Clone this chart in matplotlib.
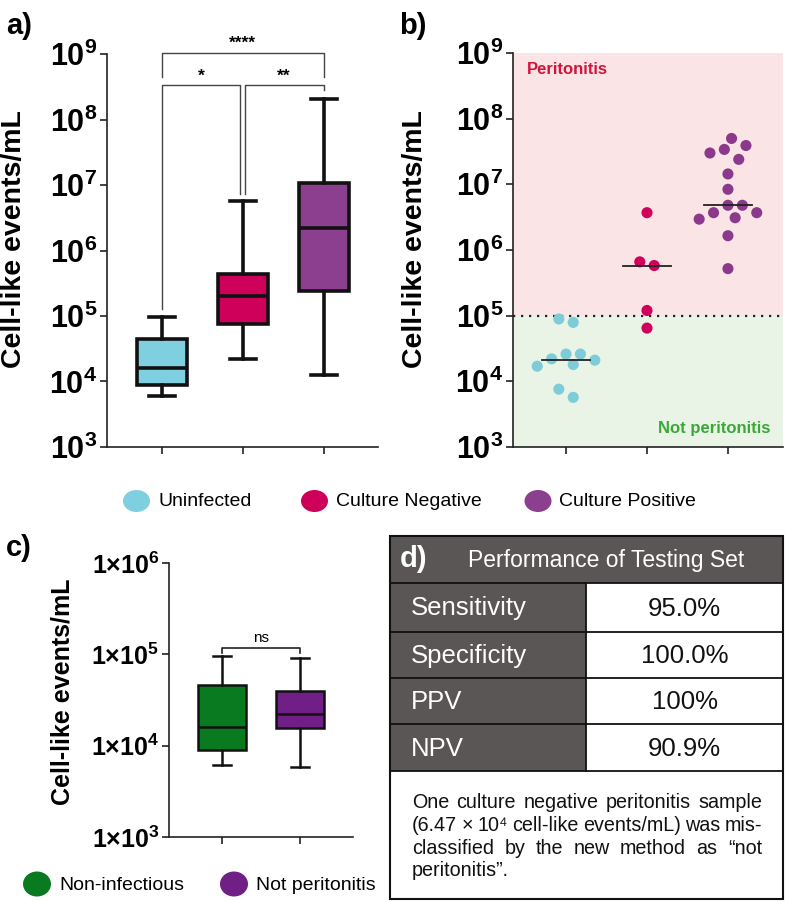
import numpy as np
import matplotlib
matplotlib.use("Agg")
import matplotlib.pyplot as plt
from matplotlib.patches import Rectangle, Ellipse

plt.rcParams['font.family'] = ['Liberation Sans', 'DejaVu Sans']
plt.rcParams['mathtext.fontset'] = 'custom'
plt.rcParams['mathtext.rm'] = 'Liberation Sans'
plt.rcParams['mathtext.bf'] = 'Liberation Sans:bold'

# ---- data ----
# panel a: box stats (min, q1, median, q3, max)
groups = ["Uninfected", "Culture Negative", "Culture Positive"]
colors = ["#7ecfe0", "#cf005a", "#8c3f8f"]
dot_colors = ["#7dccd8", "#d1005a", "#8b3a8b"]
box_min = [6.1e3, 2.2e4, 1.27e4]
box_q1 = [8.9e3, 7.6e4, 2.4e5]
box_med = [1.6e4, 2.0e5, 2.2e6]
box_q3 = [4.4e4, 4.4e5, 1.07e7]
box_max = [9.5e4, 5.6e6, 2.05e8]

# panel b: individual samples
uninfected = [8.9e4, 7.9e4, 2.6e4, 2.6e4, 2.2e4, 2.1e4, 1.8e4, 1.7e4, 7.6e3, 5.7e3]
culture_neg = [3.7e6, 6.6e5, 5.8e5, 1.2e5, 6.47e4]
culture_pos = [5.0e7, 3.9e7, 3.4e7, 3.0e7, 2.4e7, 1.44e7, 8.4e6, 4.8e6, 4.8e6,
               3.7e6, 3.7e6, 3.1e6, 2.95e6, 1.65e6, 5.2e5]
cutoff = 1e5

# panel c
c_groups = ["Non-infectious", "Not peritonitis"]
c_colors = ["#0a7a20", "#701f86"]
c_min = [6.2e3, 5.8e3]
c_q1 = [9.0e3, 1.57e4]
c_med = [1.6e4, 2.2e4]
c_q3 = [4.6e4, 4.0e4]
c_max = [9.6e4, 9.1e4]

# panel d
metrics = ["Sensitivity", "Specificity", "PPV", "NPV"]
metric_vals = ["95.0%", "100.0%", "100%", "90.9%"]
note_lines = ["One culture negative peritonitis sample",
              "(6.47 \u00d7 10\u2074 cell-like events/mL) was mis-",
              "classified by the new method as \u201cnot",
              "peritonitis\u201d."]

W, H = 785, 901
fig = plt.figure(figsize=(W / 100, H / 100), dpi=100)


def px_axes(x0, y0, x1, y1):
    return fig.add_axes([x0 / W, 1 - y1 / H, (x1 - x0) / W, (y1 - y0) / H])


def style_log(ax, lo, hi, fmt, size):
    ax.set_yscale('log')
    ax.set_ylim(lo, hi)
    ticks = [10.0 ** k for k in range(int(np.log10(lo)), int(np.log10(hi)) + 1)]
    ax.set_yticks(ticks)
    ax.set_yticklabels([fmt % int(round(np.log10(t))) for t in ticks], fontsize=size)
    ax.yaxis.set_minor_locator(matplotlib.ticker.NullLocator())
    for s in ['top', 'right']:
        ax.spines[s].set_visible(False)
    for s in ['left', 'bottom']:
        ax.spines[s].set_linewidth(1.2)
        ax.spines[s].set_color('#222222')
    ax.tick_params(axis='y', length=5, width=1.2, color='#222222', pad=2)
    ax.tick_params(axis='x', length=5, width=1.2, color='#222222', labelbottom=False)
    ax.patch.set_alpha(0)


def boxes(ax, mins, q1, med, q3, maxs, cols, lw, capw):
    stats = [dict(whislo=a, q1=b, med=c, q3=d, whishi=e, fliers=[])
             for a, b, c, d, e in zip(mins, q1, med, q3, maxs)]
    n = len(stats)
    bp = ax.bxp(stats, positions=range(1, n + 1), widths=0.62, patch_artist=True,
                showfliers=False, capwidths=[capw] * n,
                boxprops=dict(linewidth=lw, edgecolor='#111111'),
                medianprops=dict(linewidth=lw, color='#111111'),
                whiskerprops=dict(linewidth=lw, color='#111111'),
                capprops=dict(linewidth=lw, color='#111111'))
    for patch, c in zip(bp['boxes'], cols):
        patch.set_facecolor(c)


def up(ax, y, px):
    # move a log-axis value up by px pixels
    y0, y1 = ax.get_ylim()
    h = ax.get_window_extent().height
    return y * 10 ** (px * np.log10(y1 / y0) / h)


# ---- panel a ----
ax_a = px_axes(107, 54, 378, 447)
boxes(ax_a, box_min, box_q1, box_med, box_q3, box_max, colors, 2.6, 0.32)
ax_a.set_xlim(0.32, 3.67)
ax_a.set_xticks([1, 2, 3])
style_log(ax_a, 1e3, 1e9, r'$\mathbf{10^{%d}}$', 22)

top = up(ax_a, 1e9, 1.5)
mid = up(ax_a, 1e9, -31)
kw = dict(color='#444444', lw=1.0, clip_on=False)
# ****
ax_a.plot([1, 1, 3, 3], [up(ax_a, top, -24), top, top, up(ax_a, top, -24)], **kw)
ax_a.text(2, up(ax_a, top, 9), "****", ha='center', va='center', fontsize=12.5, fontweight='bold')
# *
ax_a.plot([1, 1, 1.97, 1.97], [up(ax_a, box_max[0], 8), mid, mid, up(ax_a, box_max[1], 7)], **kw)
ax_a.text(1.48, up(ax_a, mid, 9), "*", ha='center', va='center', fontsize=12.5, fontweight='bold')
# **
ax_a.plot([2.03, 2.03, 3, 3], [up(ax_a, box_max[1], 7), mid, mid, up(ax_a, box_max[2], 9)], **kw)
ax_a.text(2.5, up(ax_a, mid, 9), "**", ha='center', va='center', fontsize=12.5, fontweight='bold')

# ---- panel b ----
ax_b = px_axes(513, 53, 783, 447)
ax_b.set_xlim(0.345, 3.68)
ax_b.set_xticks([1, 2, 3])
style_log(ax_b, 1e3, 1e9, r'$\mathbf{10^{%d}}$', 22)
ax_b.axhspan(cutoff, 1e9, color='#fae4e5', zorder=0, lw=0)
ax_b.axhspan(1e3, cutoff, color='#e9f4e7', zorder=0, lw=0)
ax_b.axhline(cutoff, color='#222222', lw=1.6, ls=(0, (1, 2.6)), zorder=1)
ax_b.text(0.05, 0.978, "Peritonitis", transform=ax_b.transAxes, color='#d2143c',
          fontsize=12, fontweight='bold', ha='left', va='top')
ax_b.text(0.955, 0.027, "Not peritonitis", transform=ax_b.transAxes, color='#3aa935',
          fontsize=12, fontweight='bold', ha='right', va='bottom')


def swarm(ax, vals, xc, d_px, step):
    vals = np.asarray(vals, float)
    ys = ax.transData.transform(np.column_stack([np.full(len(vals), xc), vals]))[:, 1]
    ppu = ax.transData.transform((1, 1))[0] - ax.transData.transform((0, 1))[0]
    order = np.argsort(-ys)
    offs = np.zeros(len(vals))
    placed = []
    for i in order:
        for k in [0, 1, -1, 2, -2, 3, -3, 4, -4, 5, -5, 6, -6]:
            off = k * step
            if all((off - offs[j]) ** 2 + (ys[i] - ys[j]) ** 2 >= d_px ** 2 for j in placed):
                break
        offs[i] = off
        placed.append(i)
    # centre each cluster of touching points
    clusters = [[order[0]]]
    for a, b in zip(order[:-1], order[1:]):
        if ys[a] - ys[b] < d_px:
            clusters[-1].append(b)
        else:
            clusters.append([b])
    for cl in clusters:
        shift = (offs[cl].max() + offs[cl].min()) / 2
        offs[cl] -= shift
    return xc + offs / ppu


for k, (vals, c) in enumerate(zip([uninfected, culture_neg, culture_pos], dot_colors)):
    xs = swarm(ax_b, vals, k + 1, 12.5, 7.2)
    ax_b.scatter(xs, vals, s=64, color=c, edgecolor='none', zorder=3)
    ax_b.plot([k + 1 - 0.3, k + 1 + 0.3], [np.median(vals)] * 2, color='#222222', lw=1.3, zorder=4)

# ---- panel c ----
ax_c = px_axes(169, 563, 353, 837)
boxes(ax_c, c_min, c_q1, c_med, c_q3, c_max, c_colors, 1.8, 0.22)
ax_c.set_xlim(0.32, 2.68)
ax_c.set_xticks([1, 2])
style_log(ax_c, 1e3, 1e6, '$\\mathbf{1\u00d710^{%d}}$', 18)
ns_y = up(ax_c, max(c_max), 8)
ax_c.plot([1, 1, 2, 2], [up(ax_c, ns_y, -5), ns_y, ns_y, up(ax_c, ns_y, -5)],
          color='#222222', lw=1.2, clip_on=False)
ax_c.text(1.5, up(ax_c, ns_y, 10), "ns", ha='center', va='center', fontsize=11)

# ---- overlay (pixel coordinates) ----
axo = fig.add_axes([0, 0, 1, 1])
axo.set_xlim(0, W)
axo.set_ylim(H, 0)
axo.axis('off')

for x, y, t in [(6, 26, "a)"), (399, 26, "b)"), (6, 548, "c)")]:
    axo.text(x, y, t, fontsize=21, fontweight='bold', ha='left', va='center')

lab = "Cell-like events/mL"
axo.text(14, 239, lab, rotation=90, fontsize=20.5, fontweight='bold', ha='center', va='center')
axo.text(415, 239, lab, rotation=90, fontsize=20.5, fontweight='bold', ha='center', va='center')
axo.text(63, 692, lab, rotation=90, fontsize=18, fontweight='bold', ha='center', va='center')

# legends
for cx, tx, c, t in zip([136.5, 314.5, 538], [159, 336, 559], colors, groups):
    axo.add_patch(Ellipse((cx, 501), 27, 22, color=c, lw=0))
    axo.text(tx, 502, t, fontsize=14, ha='left', va='center')
for cx, tx, c, t in zip([37, 234], [59, 256], c_colors, c_groups):
    axo.add_patch(Ellipse((cx, 884), 28, 25, color=c, lw=0))
    axo.text(tx, 885, t, fontsize=14, ha='left', va='center')

# ---- panel d: table ----
dark = '#5a5655'
L, R, T, B = 390, 783, 536, 899
split = 586
row_edges = [583, 632, 678, 724, 771]
axo.add_patch(Rectangle((L, T), R - L, row_edges[0] - T, facecolor=dark, edgecolor='none'))
axo.add_patch(Rectangle((L, row_edges[0]), split - L, row_edges[-1] - row_edges[0],
                        facecolor=dark, edgecolor='none'))
for y in row_edges:
    axo.plot([L, R], [y, y], color='#111111', lw=1.3)
axo.plot([split, split], [row_edges[0], row_edges[-1]], color='#111111', lw=1.3)
axo.add_patch(Rectangle((L, T), R - L, B - T, facecolor='none', edgecolor='#111111', lw=1.5))

axo.text(400, 559, "d)", color='white', fontsize=21, fontweight='bold', ha='left', va='center')
axo.text(468, 560, "Performance of Testing Set", color='white', fontsize=16.5, ha='left', va='center')
for i, (m, v) in enumerate(zip(metrics, metric_vals)):
    yc = (row_edges[i] + row_edges[i + 1]) / 2 + 1
    axo.text(411, yc, m, color='white', fontsize=18.5, ha='left', va='center')
    axo.text((split + R) / 2, yc, v, color='#111111', fontsize=18.5, ha='center', va='center')

# justified note text
renderer = fig.canvas.get_renderer()
x_left, x_right = 412, 762
line_y = [803, 825.5, 848, 870.5]
for j, (line, y) in enumerate(zip(note_lines, line_y)):
    words = line.split(" ")
    arts = [axo.text(0, y, w, fontsize=14.2, ha='left', va='center', color='#111111') for w in words]
    widths = [a.get_window_extent(renderer).width for a in arts]
    if j < len(note_lines) - 1 and len(words) > 1:
        gap = (x_right - x_left - sum(widths)) / (len(words) - 1)
    else:
        gap = 4.5
    x = x_left
    for a, w in zip(arts, widths):
        a.set_x(x)
        x += w + gap

fig.savefig("out.png", dpi=100)
